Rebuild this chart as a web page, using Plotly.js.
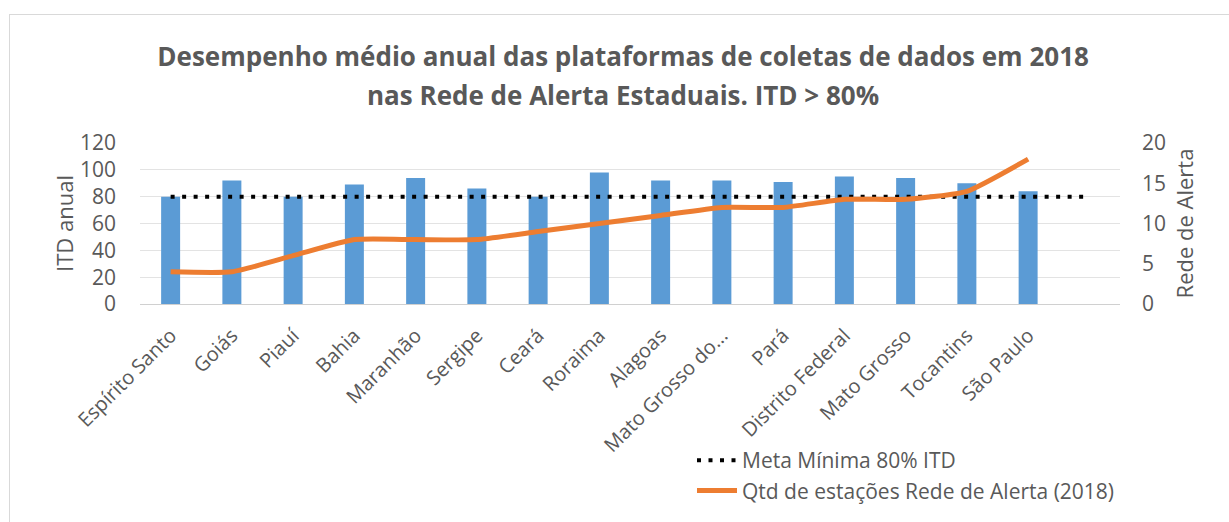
<!DOCTYPE html>
<html>
<head>
<meta charset="utf-8">
<script src="https://cdn.plot.ly/plotly-3.0.1.min.js"></script>
<style>
  html, body { margin: 0; padding: 0; background: #ffffff; }
  #wrap { position: relative; width: 1229px; height: 522px; overflow: hidden; }
  #chart { position: absolute; left: 0; top: 0; width: 1229px; height: 522px; }
  #frame { position: absolute; left: 9px; top: 14px; width: 1400px; height: 700px;
           border-top: 1px solid #d9d9d9; border-left: 1px solid #d9d9d9; pointer-events: none; }
</style>
</head>
<body>
<div id="wrap">
  <div id="chart"></div>
  <div id="frame"></div>
</div>
<script>
// Categories (the 16th slot is empty, as in the original chart)
const categories = ["Espírito Santo", "Goiás", "Piauí", "Bahia", "Maranhão", "Sergipe", "Ceará",
  "Roraima", "Alagoas", "Mato Grosso do...", "Pará", "Distrito Federal", "Mato Grosso",
  "Tocantins", "São Paulo", " "];

// ITD anual (%) per state
const itdAnual = [80, 92, 80, 89, 94, 86, 80, 98, 92, 92, 91, 95, 94, 90, 84];

// Meta mínima 80% ITD
const metaMinima = [80, 80, 80, 80, 80, 80, 80, 80, 80, 80, 80, 80, 80, 80, 80, 80];

// Qtd de estações Rede de Alerta (2018)
const qtdEstacoes = [4, 4, 6, 8, 8, 8, 9, 10, 11, 12, 12, 13, 13, 14, 18];

const leftTicks = [0, 20, 40, 60, 80, 100, 120];
const rightTicks = [0, 5, 10, 15, 20];

const FONT = "Open Sans, sans-serif";
const GREY = "#595959";

const traces = [
  {
    type: "bar",
    name: "ITD anual",
    x: categories.slice(0, itdAnual.length),
    y: itdAnual,
    marker: { color: "#5B9BD5" },
    width: 0.31,
    showlegend: false,
    hoverinfo: "x+y"
  },
  {
    type: "scatter",
    mode: "lines",
    name: "Meta Mínima 80% ITD",
    x: categories,
    y: metaMinima,
    line: { color: "#000000", width: 4, dash: "4px,7.5px" }
  },
  {
    type: "scatter",
    mode: "lines",
    name: "Qtd de estações Rede de Alerta (2018)",
    x: categories.slice(0, qtdEstacoes.length),
    y: qtdEstacoes,
    yaxis: "y2",
    line: { color: "#ED7D31", width: 5, shape: "spline", smoothing: 0.5 }
  }
];

const layout = {
  width: 1229,
  height: 522,
  margin: { l: 140, r: 109, t: 143, b: 217 },
  paper_bgcolor: "#ffffff",
  plot_bgcolor: "#ffffff",
  font: { family: FONT, color: GREY, size: 17 },
  title: {
    text: "Desempenho médio anual das plataformas de coletas de dados em 2018",
    font: { family: FONT, size: 26, color: GREY, weight: "bold" },
    xref: "container", x: 0.507, xanchor: "center",
    yref: "container", y: 1 - 57 / 522, yanchor: "middle"
  },
  annotations: [
    {
      text: "nas Rede de Alerta Estaduais. ITD > 80%",
      xref: "paper", x: (623 - 140) / 980, xanchor: "center",
      yref: "paper", y: (305 - 95) / 162, yanchor: "middle",
      showarrow: false,
      font: { family: FONT, size: 26, color: GREY, weight: "bold" }
    }
  ],
  xaxis: {
    type: "category",
    categoryorder: "array",
    categoryarray: categories,
    range: [-0.5, categories.length - 0.5],
    tickangle: -45,
    tickfont: { family: FONT, size: 20, color: GREY },
    ticklabelstandoff: 15,
    showgrid: false,
    showline: false,
    ticks: "",
    zeroline: false,
    fixedrange: true
  },
  yaxis: {
    range: [0, 120],
    tickvals: leftTicks,
    ticktext: leftTicks.map(String),
    tickfont: { family: FONT, size: 21, color: GREY },
    ticklabelstandoff: 23,
    showgrid: true,
    gridcolor: "#e3e3e3",
    gridwidth: 1,
    zeroline: true,
    zerolinecolor: "#d0d0d0",
    zerolinewidth: 1,
    showline: false,
    title: { text: "ITD anual", font: { family: FONT, size: 22, color: GREY }, standoff: 0 },
    fixedrange: true
  },
  yaxis2: {
    overlaying: "y",
    side: "right",
    range: [0, 20],
    tickvals: rightTicks,
    ticktext: rightTicks.map(String),
    tickfont: { family: FONT, size: 21, color: GREY },
    ticklabelstandoff: 21,
    showgrid: false,
    zeroline: false,
    showline: false,
    title: { text: "Rede de Alerta", font: { family: FONT, size: 22, color: GREY }, standoff: 12 },
    fixedrange: true
  },
  legend: {
    orientation: "v",
    x: (692 - 140) / 980,
    xanchor: "left",
    y: (305 - 440) / 162,
    yanchor: "top",
    font: { family: FONT, size: 21, color: GREY },
    bgcolor: "rgba(0,0,0,0)",
    traceorder: "normal",
    itemwidth: 40
  },
  showlegend: true
};

Plotly.newPlot("chart", traces, layout, { displayModeBar: false, staticPlot: true });
</script>
</body>
</html>
